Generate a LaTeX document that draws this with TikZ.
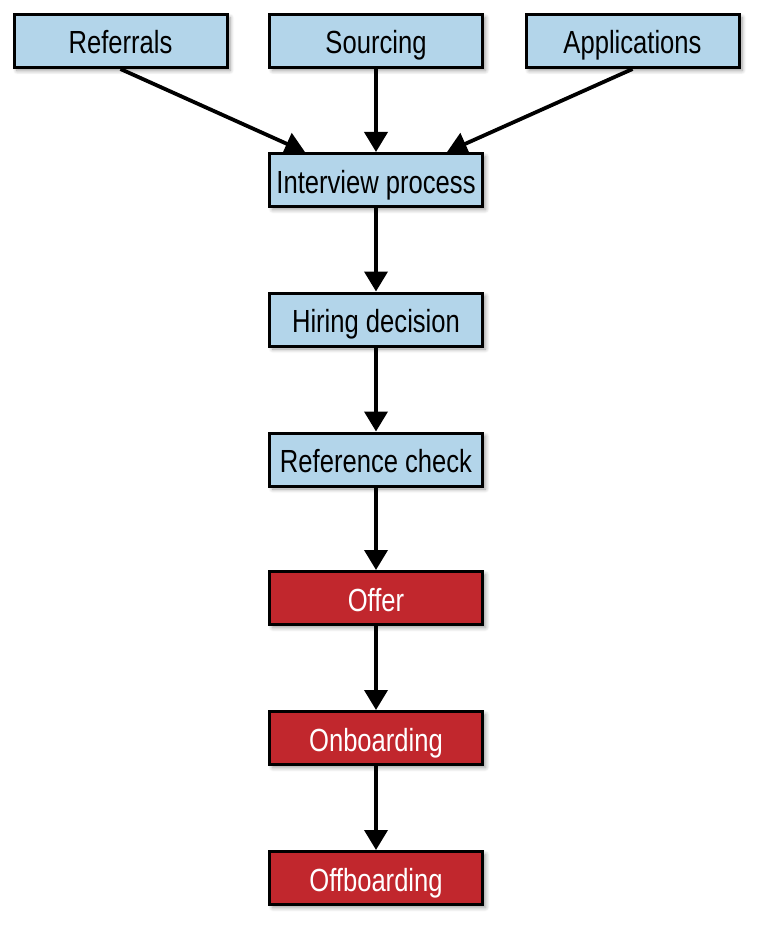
\documentclass[tikz,border=0pt]{standalone}
\usepackage{fontspec}
\setmainfont{Liberation Sans}[FakeStretch=0.8]
\usetikzlibrary{arrows.meta,shadows.blur}
\definecolor{boxblue}{RGB}{179,213,234}
\definecolor{boxred}{RGB}{193,39,45}
\tikzset{
  stepbox/.style={draw=black, line width=3pt, minimum width=213pt, minimum height=53pt,
    inner sep=0pt, text height=31pt, text depth=5pt, font=\fontsize{32}{34}\selectfont,
    blur shadow={shadow xshift=3pt, shadow yshift=-3pt, shadow blur steps=6, shadow blur radius=4pt, shadow opacity=40}},
  bluebox/.style={stepbox, fill=boxblue, text=black},
  redbox/.style={stepbox, fill=boxred, text=white},
  flow/.style={line width=3.8pt, -{Triangle[length=20pt,width=23pt]}},
}
\begin{document}
\begin{tikzpicture}[x=1pt,y=-1pt]
\useasboundingbox (0,0) rectangle (766,931);
\node[bluebox] (ref) at (120.5,41) {Referrals};
\node[bluebox] (src) at (376,41) {Sourcing};
\node[bluebox] (app) at (632.5,41) {Applications};
\node[bluebox] (int) at (376,180) {Interview process};
\node[bluebox] (hire) at (376,319.5) {Hiring decision};
\node[bluebox] (rchk) at (376,459.5) {Reference check};
\node[redbox] (offer) at (376,598) {Offer};
\node[redbox] (onb) at (376,738) {Onboarding};
\node[redbox] (offb) at (376,878) {Offboarding};
\coordinate (intL) at ([xshift=-71pt]int.north);
\coordinate (intR) at ([xshift=71pt]int.north);
\draw[flow] (ref.south) -- (intL);
\draw[flow] (src.south) -- (int.north);
\draw[flow] (app.south) -- (intR);
\draw[flow] (int) -- (hire);
\draw[flow] (hire) -- (rchk);
\draw[flow] (rchk) -- (offer);
\draw[flow] (offer) -- (onb);
\draw[flow] (onb) -- (offb);
\end{tikzpicture}
\end{document}
